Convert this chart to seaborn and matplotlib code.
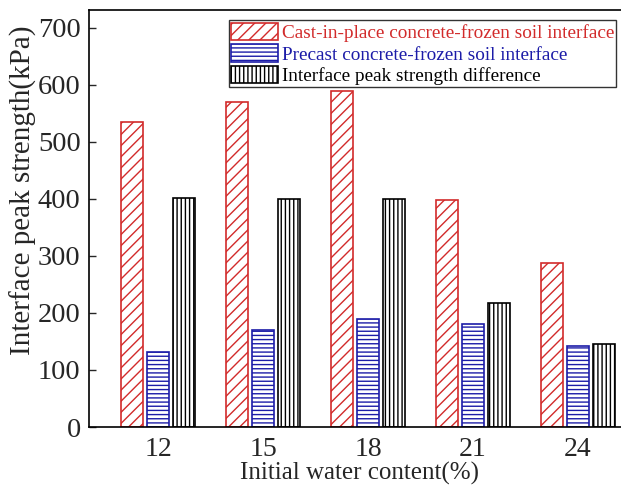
import matplotlib
matplotlib.use("Agg")
import matplotlib.pyplot as plt
import seaborn as sns
import pandas as pd

water_content = ["12", "15", "18", "21", "24"]
cast_in_place = [534, 570, 589, 398, 287]
precast = [132, 170, 190, 180, 142]
difference = [402, 400, 399, 218, 145]

series_names = [
    "Cast-in-place concrete-frozen soil interface",
    "Precast concrete-frozen soil interface",
    "Interface peak strength difference",
]
series_values = [cast_in_place, precast, difference]
colors = ["#d22b2b", "#1c1ca8", "#000000"]
hatches = ["///", "----", "||||"]

rows = []
for name, vals in zip(series_names, series_values):
    for wc, v in zip(water_content, vals):
        rows.append({"wc": wc, "value": v, "series": name})
df = pd.DataFrame(rows)

sns.set_style("ticks")
plt.rcParams["font.family"] = ["Liberation Serif", "DejaVu Serif"]
plt.rcParams["hatch.linewidth"] = 1.0

fig = plt.figure(figsize=(6.21, 4.86), dpi=100)
ax = fig.add_axes([89 / 621, 1 - 427 / 486, (647 - 89) / 621, (427 - 10) / 486])

sns.barplot(data=df, x="wc", y="value", hue="series", hue_order=series_names,
            order=water_content, width=0.75, gap=0.18, ax=ax, errorbar=None,
            legend=False)

for cont, col, h in zip(ax.containers, colors, hatches):
    for p in cont.patches:
        p.set_facecolor("white")
        p.set_edgecolor(col)
        p.set_hatch(h)
        p.set_linewidth(1.2)

ax.set_xlim(-0.657, 4.657)
ax.set_ylim(0, 731)
ax.set_yticks(range(0, 701, 100))
ax.tick_params(axis="y", direction="in", length=5, width=1, labelsize=20.5, pad=6)
ax.tick_params(axis="x", length=0, labelsize=20, pad=7)
for s in ax.spines.values():
    s.set_linewidth(1.2)
    s.set_color("black")

ax.set_xlabel("Initial water content(%)", fontsize=18)
ax.xaxis.set_label_coords(0.484, -0.083)
ax.set_ylabel("Interface peak strength(kPa)", fontsize=21)
ax.yaxis.set_label_coords(-0.093, 0.568)

handles = [cont.patches[0] for cont in ax.containers]
leg = ax.legend(handles, series_names, loc="upper left",
                bbox_to_anchor=(0.251, 0.975), borderaxespad=0,
                fontsize=13.9, frameon=True, fancybox=False, framealpha=1,
                edgecolor="#333333", handlelength=2.4, handleheight=1.0,
                handletextpad=0.2, labelspacing=0.12, borderpad=0.12)
leg.get_frame().set_linewidth(1.0)
for t, col in zip(leg.get_texts(), colors):
    t.set_color(col)

fig.savefig("out.png", dpi=100)
